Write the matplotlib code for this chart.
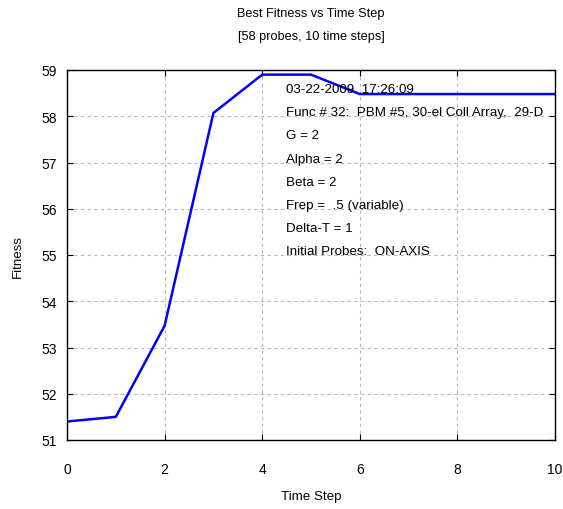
import matplotlib
matplotlib.use("Agg")
import matplotlib.pyplot as plt

plt.rcParams['font.family'] = ['Liberation Sans', 'DejaVu Sans']

time_steps = [0, 1, 2, 3, 4, 5, 6, 7, 8, 9, 10]
fitness = [51.40, 51.50, 53.47, 58.07, 58.90, 58.90, 58.48, 58.48, 58.48, 58.48, 58.48]
x_ticks = [0, 2, 4, 6, 8, 10]
y_ticks = [51, 52, 53, 54, 55, 56, 57, 58, 59]
info_lines = [
    "03-22-2009  17:26:09",
    "Func # 32:  PBM #5, 30-el Coll Array,  29-D",
    "G = 2",
    "Alpha = 2",
    "Beta = 2",
    "Frep =  .5 (variable)",
    "Delta-T = 1",
    "Initial Probes:  ON-AXIS",
]

W, H = 563, 510
fig = plt.figure(figsize=(W / 100, H / 100), dpi=100)
ax = fig.add_axes([67 / W, 1 - 441 / H, (555 - 67) / W, (441 - 71) / H])

ax.plot(time_steps, fitness, color='#0000ff', lw=1.8)
ax.set_xlim(0, 10)
ax.set_ylim(51, 59)
ax.set_xticks(x_ticks)
ax.set_yticks(y_ticks)
ax.grid(True, color='#b8b8b8', linestyle=(0, (3, 3)), lw=0.8)
ax.tick_params(direction='in', length=4, top=True, right=True, labelsize=10, colors='black')
ax.tick_params(axis='y', pad=7)
ax.tick_params(axis='x', pad=16)
for sp in ax.spines.values():
    sp.set_linewidth(1.0)

for i, line in enumerate(info_lines):
    fig.text(286 / W, 1 - (90 + i * 23.2) / H, line, fontsize=9.6, va='center', ha='left')

fig.text(311 / W, 1 - 14 / H, "Best Fitness vs Time Step", fontsize=9.2, ha='center', va='center')
fig.text(311 / W, 1 - 37 / H, "[58 probes, 10 time steps]", fontsize=9.2, ha='center', va='center')
fig.text(311 / W, 1 - 497 / H, "Time Step", fontsize=9.6, ha='center', va='center')
fig.text(18 / W, 1 - 256 / H, "Fitness", fontsize=9.6, ha='center', va='center', rotation=90)

fig.savefig("out.png", dpi=100)
